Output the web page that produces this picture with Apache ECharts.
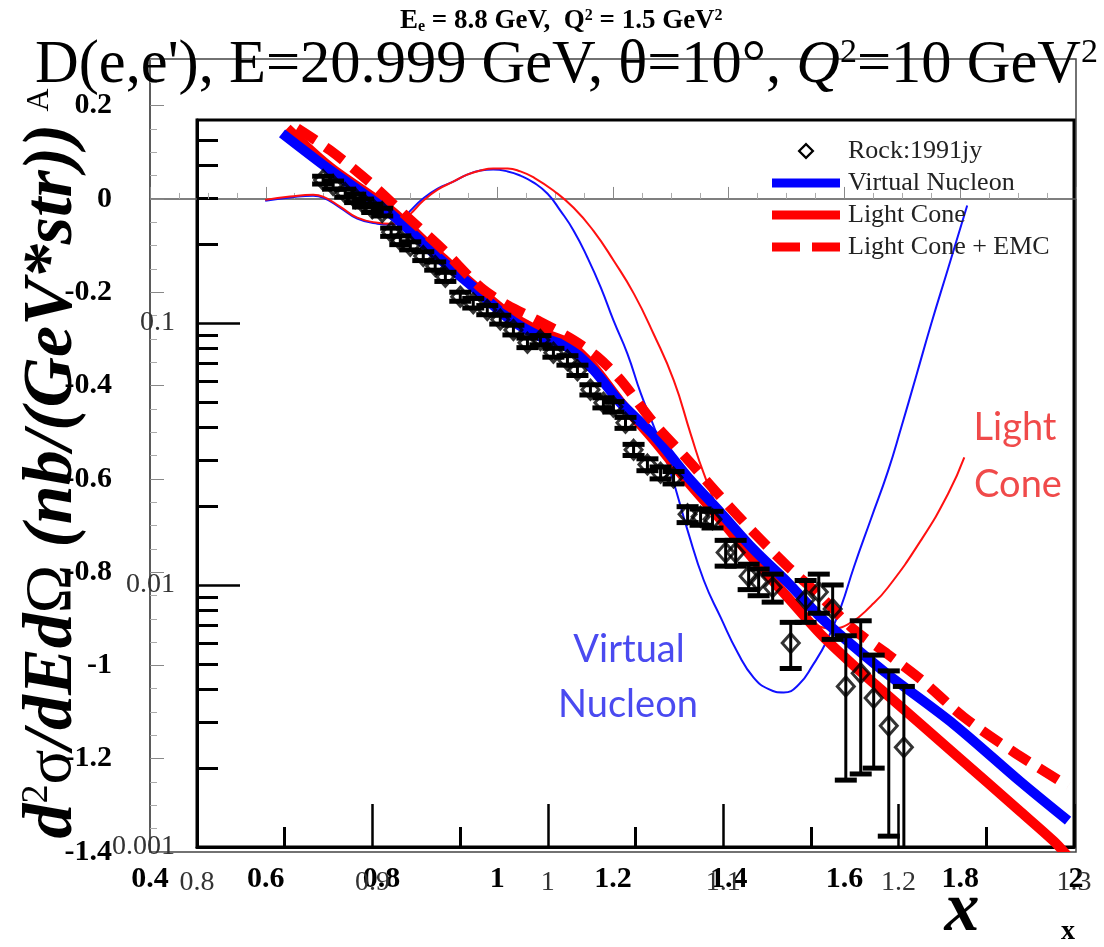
<!DOCTYPE html>
<html>
<head>
<meta charset="utf-8">
<script src="https://cdn.jsdelivr.net/npm/echarts@6/dist/echarts.min.js"></script>
<style>
html, body { margin: 0; padding: 0; background: #fff; }
#chart { width: 1104px; height: 947px; }
</style>
</head>
<body>
<div id="chart"></div>
<script>
// outer plot: E_e = 8.8 GeV, Q^2 = 1.5 GeV^2 (thin curves)
var thinVNx = [0.599, 0.642, 0.682, 0.699, 0.729, 0.758, 0.793, 0.815, 0.833, 0.850, 0.872, 0.897, 0.924, 0.948, 0.971, 0.993, 1.018, 1.040, 1.063, 1.087, 1.109, 1.132, 1.156, 1.179, 1.201, 1.225, 1.248, 1.270, 1.300, 1.329, 1.357, 1.386, 1.416, 1.443, 1.469, 1.495, 1.521, 1.545, 1.570, 1.594, 1.616, 1.646, 1.675, 1.698, 1.724, 1.750, 1.779, 1.812];
var thinVNy = [-0.004, 0.003, 0.007, 0.003, -0.019, -0.042, -0.053, -0.055, -0.047, -0.025, 0.001, 0.022, 0.037, 0.052, 0.061, 0.063, 0.059, 0.050, 0.035, 0.011, -0.025, -0.068, -0.126, -0.190, -0.261, -0.332, -0.417, -0.486, -0.589, -0.711, -0.818, -0.897, -0.974, -1.026, -1.051, -1.058, -1.041, -1.000, -0.946, -0.874, -0.790, -0.685, -0.584, -0.490, -0.379, -0.267, -0.149, -0.014];
var thinLCx = [0.599, 0.642, 0.682, 0.699, 0.729, 0.758, 0.793, 0.815, 0.833, 0.850, 0.872, 0.897, 0.924, 0.948, 0.971, 0.993, 1.018, 1.040, 1.063, 1.097, 1.132, 1.166, 1.201, 1.236, 1.270, 1.305, 1.334, 1.357, 1.386, 1.438, 1.490, 1.533, 1.577, 1.611, 1.646, 1.675, 1.732, 1.779, 1.807];
var thinLCy = [-0.002, 0.005, 0.009, 0.005, -0.017, -0.040, -0.051, -0.053, -0.049, -0.032, -0.004, 0.020, 0.037, 0.052, 0.061, 0.065, 0.065, 0.059, 0.046, 0.018, -0.019, -0.068, -0.132, -0.203, -0.289, -0.389, -0.503, -0.589, -0.674, -0.764, -0.839, -0.893, -0.921, -0.908, -0.872, -0.833, -0.732, -0.632, -0.554];

// inner plot: D(e,e'), E=20.999 GeV, cross section (nb/(GeV*str))
var rockX = [0.8719, 0.8776, 0.8845, 0.8902, 0.8947, 0.8999, 0.9056, 0.9107, 0.9159, 0.9216, 0.9290, 0.9358, 0.9416, 0.9501, 0.9575, 0.9655, 0.9729, 0.9804, 0.9884, 0.9958, 1.0032, 1.0112, 1.0169, 1.0243, 1.0317, 1.0374, 1.0443, 1.0489, 1.0568, 1.0643, 1.0717, 1.0797, 1.0871, 1.0939, 1.1014, 1.1071, 1.1145, 1.1202, 1.1282, 1.1385, 1.1470, 1.1545, 1.1624, 1.1699, 1.1784, 1.1858, 1.1944, 1.2030];
var rockY = [0.351, 0.336, 0.313, 0.299, 0.287, 0.274, 0.265, 0.222, 0.207, 0.197, 0.180, 0.165, 0.150, 0.126, 0.119, 0.112, 0.103, 0.094, 0.084, 0.086, 0.077, 0.072, 0.066, 0.0556, 0.0496, 0.0479, 0.0416, 0.0328, 0.0288, 0.0268, 0.0257, 0.0186, 0.0182, 0.0178, 0.0133, 0.0133, 0.0108, 0.0103, 0.0098, 0.0060, 0.0088, 0.0094, 0.0081, 0.0041, 0.0046, 0.0037, 0.0029, 0.0024];
var rockErr = [0.012, 0.012, 0.011, 0.011, 0.010, 0.010, 0.009, 0.008, 0.008, 0.007, 0.007, 0.006, 0.006, 0.005, 0.005, 0.0045, 0.004, 0.004, 0.0035, 0.0035, 0.003, 0.003, 0.003, 0.0025, 0.0022, 0.0022, 0.002, 0.0016, 0.0015, 0.0014, 0.0014, 0.0013, 0.0013, 0.0013, 0.0015, 0.0015, 0.0012, 0.0012, 0.0012, 0.0012, 0.0016, 0.0016, 0.0019, 0.0023, 0.0027, 0.0017, 0.0018, 0.0017];

var vnX = [0.8485, 0.8759, 0.9102, 0.9387, 0.9575, 0.9769, 0.9958, 1.0112, 1.0260, 1.0414, 1.0603, 1.0797, 1.0985, 1.1174, 1.1368, 1.1556, 1.1744, 1.1938, 1.2315, 1.2697, 1.2966];
var vnY = [0.529, 0.383, 0.262, 0.175, 0.137, 0.105, 0.0885, 0.081, 0.0662, 0.0496, 0.0374, 0.0259, 0.0189, 0.01365, 0.01022, 0.00752, 0.00583, 0.00456, 0.00294, 0.00177, 0.00126];
var lcX = [0.8514, 0.8759, 0.9102, 0.9387, 0.9769, 0.9958, 1.0112, 1.0260, 1.0414, 1.0603, 1.0797, 1.0985, 1.1174, 1.1368, 1.1556, 1.1744, 1.1938, 1.2315, 1.2697, 1.2886, 1.2966];
var lcY = [0.553, 0.393, 0.270, 0.180, 0.109, 0.0924, 0.0839, 0.068, 0.050, 0.0358, 0.0248, 0.01776, 0.01251, 0.00897, 0.00648, 0.00493, 0.00379, 0.00228, 0.00136, 0.00105, 0.00092];
var emcX = [0.8571, 0.8759, 0.8970, 0.9176, 0.9404, 0.9615, 0.9769, 0.9958, 1.0146, 1.0283, 1.0414, 1.0603, 1.0797, 1.0985, 1.1174, 1.1368, 1.1556, 1.1744, 1.1938, 1.2127, 1.2372, 1.2658, 1.2966];
var emcY = [0.553, 0.456, 0.351, 0.262, 0.190, 0.137, 0.117, 0.101, 0.0861, 0.0742, 0.0607, 0.0416, 0.0301, 0.0217, 0.01585, 0.01176, 0.00904, 0.00677, 0.00544, 0.00436, 0.00313, 0.0023, 0.00171];

// log axis ticks of the inner plot
var innerYMajor = [0.001, 0.01, 0.1];
var innerYMinor = [0.002, 0.003, 0.004, 0.005, 0.006, 0.007, 0.008, 0.009, 0.02, 0.03, 0.04, 0.05, 0.06, 0.07, 0.08, 0.09, 0.2, 0.3, 0.4, 0.5];
var innerYMin = 0.001, innerYMax = 0.595;

var SERIF = '"Liberation Serif", "Times New Roman", serif';
var SANS = 'Lato, "Open Sans", sans-serif';

function lg(v) { return Math.log10(v); }
function pairs(xs, ys, f) {
    return xs.map(function (x, i) { return [x, f ? f(ys[i]) : ys[i]]; });
}

var errData = rockX.map(function (x, i) {
    var lo = Math.max(rockY[i] - rockErr[i], 0.0005);
    return [x, lg(lo), lg(rockY[i] + rockErr[i])];
});

function renderErrorBar(params, api) {
    var x = api.value(0);
    var top = api.coord([x, api.value(2)]);
    var bot = api.coord([x, api.value(1)]);
    var half = 11;
    return {
        type: 'group',
        children: [
            { type: 'line', shape: { x1: top[0], y1: top[1], x2: bot[0], y2: bot[1] }, style: { stroke: '#000', lineWidth: 3 } },
            { type: 'line', shape: { x1: top[0] - half, y1: top[1], x2: top[0] + half, y2: top[1] }, style: { stroke: '#000', lineWidth: 5 } },
            { type: 'line', shape: { x1: bot[0] - half, y1: bot[1], x2: bot[0] + half, y2: bot[1] }, style: { stroke: '#000', lineWidth: 5 } }
        ]
    };
}

var chart = echarts.init(document.getElementById('chart'));

var option = {
    animation: false,
    backgroundColor: '#fff',
    title: [
        {
            text: '{b|E}{sb|e}{b| = 8.8 GeV,  Q}{sp|2}{b| = 1.5 GeV}{sp|2}',
            left: 400, top: 8, padding: 0,
            textStyle: {
                rich: {
                    b: { fontFamily: SERIF, fontWeight: 'bold', fontSize: 27, color: '#000' },
                    sb: { fontFamily: SERIF, fontWeight: 'bold', fontSize: 16, color: '#000', verticalAlign: 'bottom', padding: [10, 0, 0, 0] },
                    sp: { fontFamily: SERIF, fontWeight: 'bold', fontSize: 16, color: '#000', verticalAlign: 'top' }
                }
            }
        },
        {
            text: '{n|D(e,e\'), E=20.999 GeV, \u03b8=10\u00b0, }{i|Q}{s|2}{n|=10 GeV}{s|2}',
            left: 35, top: 36, padding: 0,
            textStyle: {
                rich: {
                    n: { fontFamily: SERIF, fontWeight: 'normal', fontSize: 60.5, color: '#000' },
                    i: { fontFamily: SERIF, fontWeight: 'normal', fontStyle: 'italic', fontSize: 60.5, color: '#000' },
                    s: { fontFamily: SERIF, fontWeight: 'normal', fontSize: 34, color: '#000', verticalAlign: 'top' }
                }
            }
        }
    ],
    legend: {
        orient: 'vertical',
        left: 772, top: 138,
        padding: 0,
        itemWidth: 68, itemHeight: 17, itemGap: 6,
        textStyle: { fontFamily: SERIF, fontSize: 26, color: '#222', padding: [0, 0, 0, 3] },
        data: [
            { name: 'Rock:1991jy', icon: 'path://M8,0L16,8L8,16L0,8Z M8,3L3,8L8,13L13,8Z', itemStyle: { color: '#000', borderWidth: 0 } },
            { name: 'Virtual Nucleon', icon: 'path://M0,0H68V9H0Z', itemStyle: { color: '#0000ff', borderWidth: 0 } },
            { name: 'Light Cone', icon: 'path://M0,0H68V9H0Z', itemStyle: { color: '#ff0000', borderWidth: 0 } },
            { name: 'Light Cone + EMC', icon: 'path://M0,0H28V9H0Z M40,0H68V9H40Z', itemStyle: { color: '#ff0000', borderWidth: 0 } }
        ]
    },
    grid: [
        { left: 150, top: 59, right: 28, bottom: 95, show: true, borderColor: '#444', borderWidth: 1.5, outerBoundsMode: 'none' },
        { left: 197, top: 120, right: 30, bottom: 100, show: true, borderColor: '#000', borderWidth: 3, outerBoundsMode: 'none' }
    ],
    xAxis: [
        {
            gridIndex: 0, type: 'value', min: 0.4, max: 2, interval: 0.2,
            axisLine: { lineStyle: { color: '#555', width: 1.5 } },
            axisTick: { inside: true, length: 12, lineStyle: { color: '#888', width: 1 } },
            minorTick: { show: true, splitNumber: 4, length: 6, lineStyle: { color: '#aaa', width: 1 } },
            splitLine: { show: false },
            axisLabel: { margin: 12, fontFamily: SERIF, fontWeight: 'bold', fontSize: 30, color: '#000' }
        },
        {
            gridIndex: 1, type: 'value', min: 0.8, max: 1.3, interval: 0.1,
            axisLine: { lineStyle: { color: '#000', width: 3 } },
            axisTick: { inside: true, length: 43, lineStyle: { color: '#000', width: 2.5 } },
            minorTick: { show: true, splitNumber: 2, length: 20, lineStyle: { color: '#000', width: 3 } },
            splitLine: { show: false },
            axisLabel: { margin: 22, fontFamily: SERIF, fontSize: 28, color: '#333' }
        }
    ],
    yAxis: [
        {
            gridIndex: 0, type: 'value', position: 'left', min: -1.4, max: 0.3, interval: 0.2,
            axisLine: { show: true, lineStyle: { color: '#555', width: 1.5 } },
            axisTick: { show: true, inside: true, length: 14, lineStyle: { color: '#888', width: 1 } },
            minorTick: { show: true, splitNumber: 4, length: 7, lineStyle: { color: '#aaa', width: 1 } },
            splitLine: { show: false },
            axisLabel: { margin: 38, showMaxLabel: false, fontFamily: SERIF, fontWeight: 'bold', fontSize: 30, color: '#000' }
        },
        {
            gridIndex: 1, type: 'value', position: 'left', min: lg(innerYMin), max: lg(innerYMax),
            axisLine: { show: true, lineStyle: { color: '#000', width: 3 } },
            axisTick: { show: true, inside: true, length: 43, lineStyle: { color: '#000', width: 2.5 }, customValues: innerYMajor.map(lg) },
            splitLine: { show: false },
            axisLabel: {
                margin: 22, fontFamily: SERIF, fontSize: 28, color: '#333',
                customValues: innerYMajor.map(lg),
                formatter: function (v) { return String(+Math.pow(10, v).toPrecision(1)); }
            }
        },
        {
            gridIndex: 1, type: 'value', position: 'left', offset: 0, min: lg(innerYMin), max: lg(innerYMax),
            axisLine: { show: false },
            axisTick: { show: true, inside: true, length: 21, lineStyle: { color: '#000', width: 3 }, customValues: innerYMinor.map(lg) },
            splitLine: { show: false },
            axisLabel: { show: false }
        }
    ],
    series: [
        {
            name: 'thin VN', type: 'line', xAxisIndex: 0, yAxisIndex: 0, z: 1,
            data: pairs(thinVNx, thinVNy), smooth: 0.5, showSymbol: false,
            lineStyle: { color: '#1010ff', width: 2 }
        },
        {
            name: 'thin LC', type: 'line', xAxisIndex: 0, yAxisIndex: 0, z: 1,
            data: pairs(thinLCx, thinLCy), smooth: 0.5, showSymbol: false,
            lineStyle: { color: '#ff1010', width: 2 }
        },
        {
            name: 'Light Cone', type: 'line', xAxisIndex: 1, yAxisIndex: 1, z: 3,
            data: pairs(lcX, lcY, lg), smooth: 0.3, showSymbol: false,
            itemStyle: { color: '#ff0000' },
            lineStyle: { color: '#ff0000', width: 10 }
        },
        {
            name: 'Virtual Nucleon', type: 'line', xAxisIndex: 1, yAxisIndex: 1, z: 4,
            data: pairs(vnX, vnY, lg), smooth: 0.3, showSymbol: false,
            itemStyle: { color: '#0000ff' },
            lineStyle: { color: '#0000ff', width: 10 }
        },
        {
            name: 'Light Cone + EMC', type: 'line', xAxisIndex: 1, yAxisIndex: 1, z: 5,
            data: pairs(emcX, emcY, lg), smooth: 0.3, showSymbol: false,
            itemStyle: { color: '#ff0000' },
            lineStyle: { color: '#ff0000', width: 10, type: [22, 12] }
        },
        {
            name: 'Rock:1991jy', type: 'custom', xAxisIndex: 1, yAxisIndex: 1, z: 6,
            clip: true, renderItem: renderErrorBar, data: errData,
            itemStyle: { color: '#000' }
        },
        {
            name: 'Rock:1991jy', type: 'scatter', xAxisIndex: 1, yAxisIndex: 1, z: 7,
            data: pairs(rockX, rockY, lg), symbol: 'diamond', symbolSize: [17, 19],
            itemStyle: { color: 'rgba(0,0,0,0)', borderColor: '#000', borderWidth: 3 }
        }
    ],
    graphic: [
        {
            type: 'text', x: 53, y: 481, rotation: Math.PI / 2, z: 100,
            style: {
                text: '{a|d}{s|2}{g|\u03c3}{a|/dEd}{g|\u03a9}{a| (nb/(GeV*str))}',
                align: 'center', verticalAlign: 'middle',
                rich: {
                    a: { fontFamily: SERIF, fontWeight: 'bold', fontStyle: 'italic', fontSize: 70, fill: '#000' },
                    s: { fontFamily: SERIF, fontSize: 38, fill: '#000', verticalAlign: 'top' },
                    g: { fontFamily: SERIF, fontSize: 65, fill: '#000' }
                }
            }
        },
        { type: 'text', x: 40, y: 100, rotation: Math.PI / 2, z: 99,
          style: { text: 'A', font: '32px ' + SERIF, fill: '#000', align: 'center', verticalAlign: 'middle' } },
        { type: 'text', x: 962, y: 912, z: 100,
          style: { text: 'x', font: 'italic bold 70px ' + SERIF, fill: '#000', align: 'center', verticalAlign: 'middle' } },
        { type: 'text', x: 1068, y: 932, z: 100,
          style: { text: 'x', font: 'bold 28px ' + SERIF, fill: '#000', align: 'center', verticalAlign: 'middle' } },
        { type: 'text', x: 1015, y: 428, z: 100,
          style: { text: 'Light', font: '38px ' + SANS, fill: '#f04a4a', align: 'center', verticalAlign: 'middle' } },
        { type: 'text', x: 1018, y: 485, z: 100,
          style: { text: 'Cone', font: '38px ' + SANS, fill: '#f04a4a', align: 'center', verticalAlign: 'middle' } },
        { type: 'text', x: 629, y: 650, z: 100,
          style: { text: 'Virtual', font: '38px ' + SANS, fill: '#4a4af0', align: 'center', verticalAlign: 'middle' } },
        { type: 'text', x: 628, y: 705, z: 100,
          style: { text: 'Nucleon', font: '38px ' + SANS, fill: '#4a4af0', align: 'center', verticalAlign: 'middle' } }
    ]
};

chart.setOption(option);
</script>
</body>
</html>
